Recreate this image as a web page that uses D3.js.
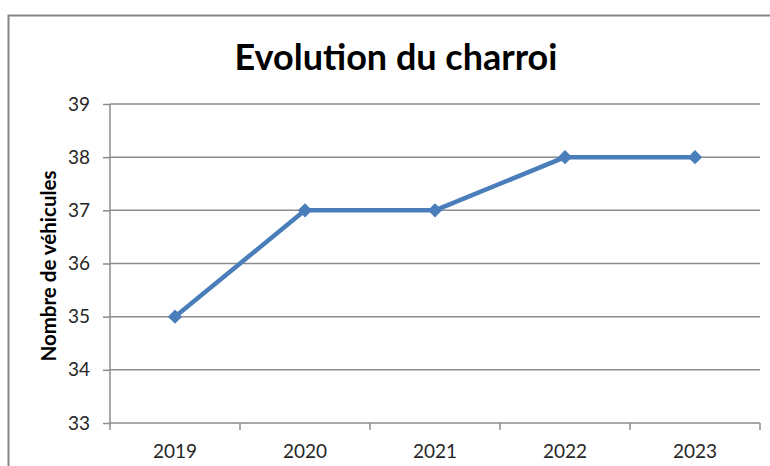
<!DOCTYPE html>
<html>
<head>
<meta charset="utf-8">
<script src="https://cdn.jsdelivr.net/npm/d3@7"></script>
<style>
  body { margin: 0; background: #fff; }
  text { font-family: Lato, 'Open Sans', sans-serif; }
</style>
</head>
<body>
<div id="chart"></div>
<script>
// data
var years = ['2019', '2020', '2021', '2022', '2023']
var vehicles = [35, 37, 37, 38, 38]
var yTicks = [33, 34, 35, 36, 37, 38, 39]

var W = 770, H = 466
var margin = { top: 104, left: 110, right: 10, bottom: 43 }
var width = W - margin.left - margin.right
var height = H - margin.top - margin.bottom

var svg = d3.select('#chart')
  .append('svg')
  .attr('width', W)
  .attr('height', H)

// outer chart border (cropped on right and bottom)
svg.append('rect')
  .attr('x', 8.5)
  .attr('y', 15.5)
  .attr('width', 800)
  .attr('height', 500)
  .attr('fill', 'none')
  .attr('stroke', '#868686')
  .attr('stroke-width', 2)

var g = svg.append('g')
  .attr('transform', 'translate(' + margin.left + ',' + margin.top + ')')

var xScale = d3.scaleBand().domain(years).range([0, width])
var yScale = d3.scaleLinear().domain([33, 39]).range([height, 0])

// gridlines
g.selectAll('.grid')
  .data(yTicks.slice(1))
  .enter()
  .append('line')
  .attr('class', 'grid')
  .attr('x1', 0)
  .attr('x2', width)
  .attr('y1', d => yScale(d))
  .attr('y2', d => yScale(d))
  .attr('stroke', '#8c8c8c')
  .attr('stroke-width', 1.5)

// y axis
var yAxis = d3.axisLeft(yScale).tickValues(yTicks).tickFormat(d3.format('d')).tickSize(7).tickPadding(13)
var yg = g.append('g').call(yAxis)
yg.select('.domain').attr('stroke', '#8c8c8c').attr('stroke-width', 1.5).attr('d', 'M0,' + height + 'V0')
yg.selectAll('.tick line').attr('stroke', '#8c8c8c').attr('stroke-width', 1.5)
yg.selectAll('.tick text').attr('font-size', 19).attr('fill', '#262626')

// x axis, ticks on band edges
var xg = g.append('g').attr('transform', 'translate(0,' + height + ')')
xg.append('line')
  .attr('x1', 0).attr('x2', width)
  .attr('stroke', '#8c8c8c').attr('stroke-width', 1.5)
xg.selectAll('.xtick')
  .data(years.concat(['end']))
  .enter()
  .append('line')
  .attr('x1', (d, i) => i * xScale.step())
  .attr('x2', (d, i) => i * xScale.step())
  .attr('y1', 0).attr('y2', 7)
  .attr('stroke', '#8c8c8c').attr('stroke-width', 1.5)
xg.selectAll('.xlabel')
  .data(years)
  .enter()
  .append('text')
  .attr('x', d => xScale(d) + xScale.bandwidth() / 2)
  .attr('y', 35)
  .attr('text-anchor', 'middle')
  .attr('font-size', 19)
  .attr('fill', '#262626')
  .text(d => d)

// line
var line = d3.line()
  .x((d, i) => xScale(years[i]) + xScale.bandwidth() / 2)
  .y(d => yScale(d))

g.append('path')
  .datum(vehicles)
  .attr('d', line)
  .attr('fill', 'none')
  .attr('stroke', '#4a7ebb')
  .attr('stroke-width', 4.5)
  .attr('stroke-linejoin', 'round')

g.selectAll('.marker')
  .data(vehicles)
  .enter()
  .append('path')
  .attr('d', d3.symbol().type(d3.symbolDiamond2).size(130))
  .attr('transform', (d, i) => 'translate(' + (xScale(years[i]) + xScale.bandwidth() / 2) + ',' + yScale(d) + ')')
  .attr('fill', '#4a7ebb')

// title
svg.append('text')
  .attr('x', 396)
  .attr('y', 70)
  .attr('text-anchor', 'middle')
  .attr('font-size', 36)
  .attr('font-weight', 'bold')
  .attr('fill', '#000')
  .text('Evolution du charroi')

// y label
svg.append('text')
  .attr('transform', 'translate(56,266) rotate(-90)')
  .attr('text-anchor', 'middle')
  .attr('font-size', 20.5)
  .attr('font-weight', 'bold')
  .attr('fill', '#000')
  .text('Nombre de véhicules')
</script>
</body>
</html>
